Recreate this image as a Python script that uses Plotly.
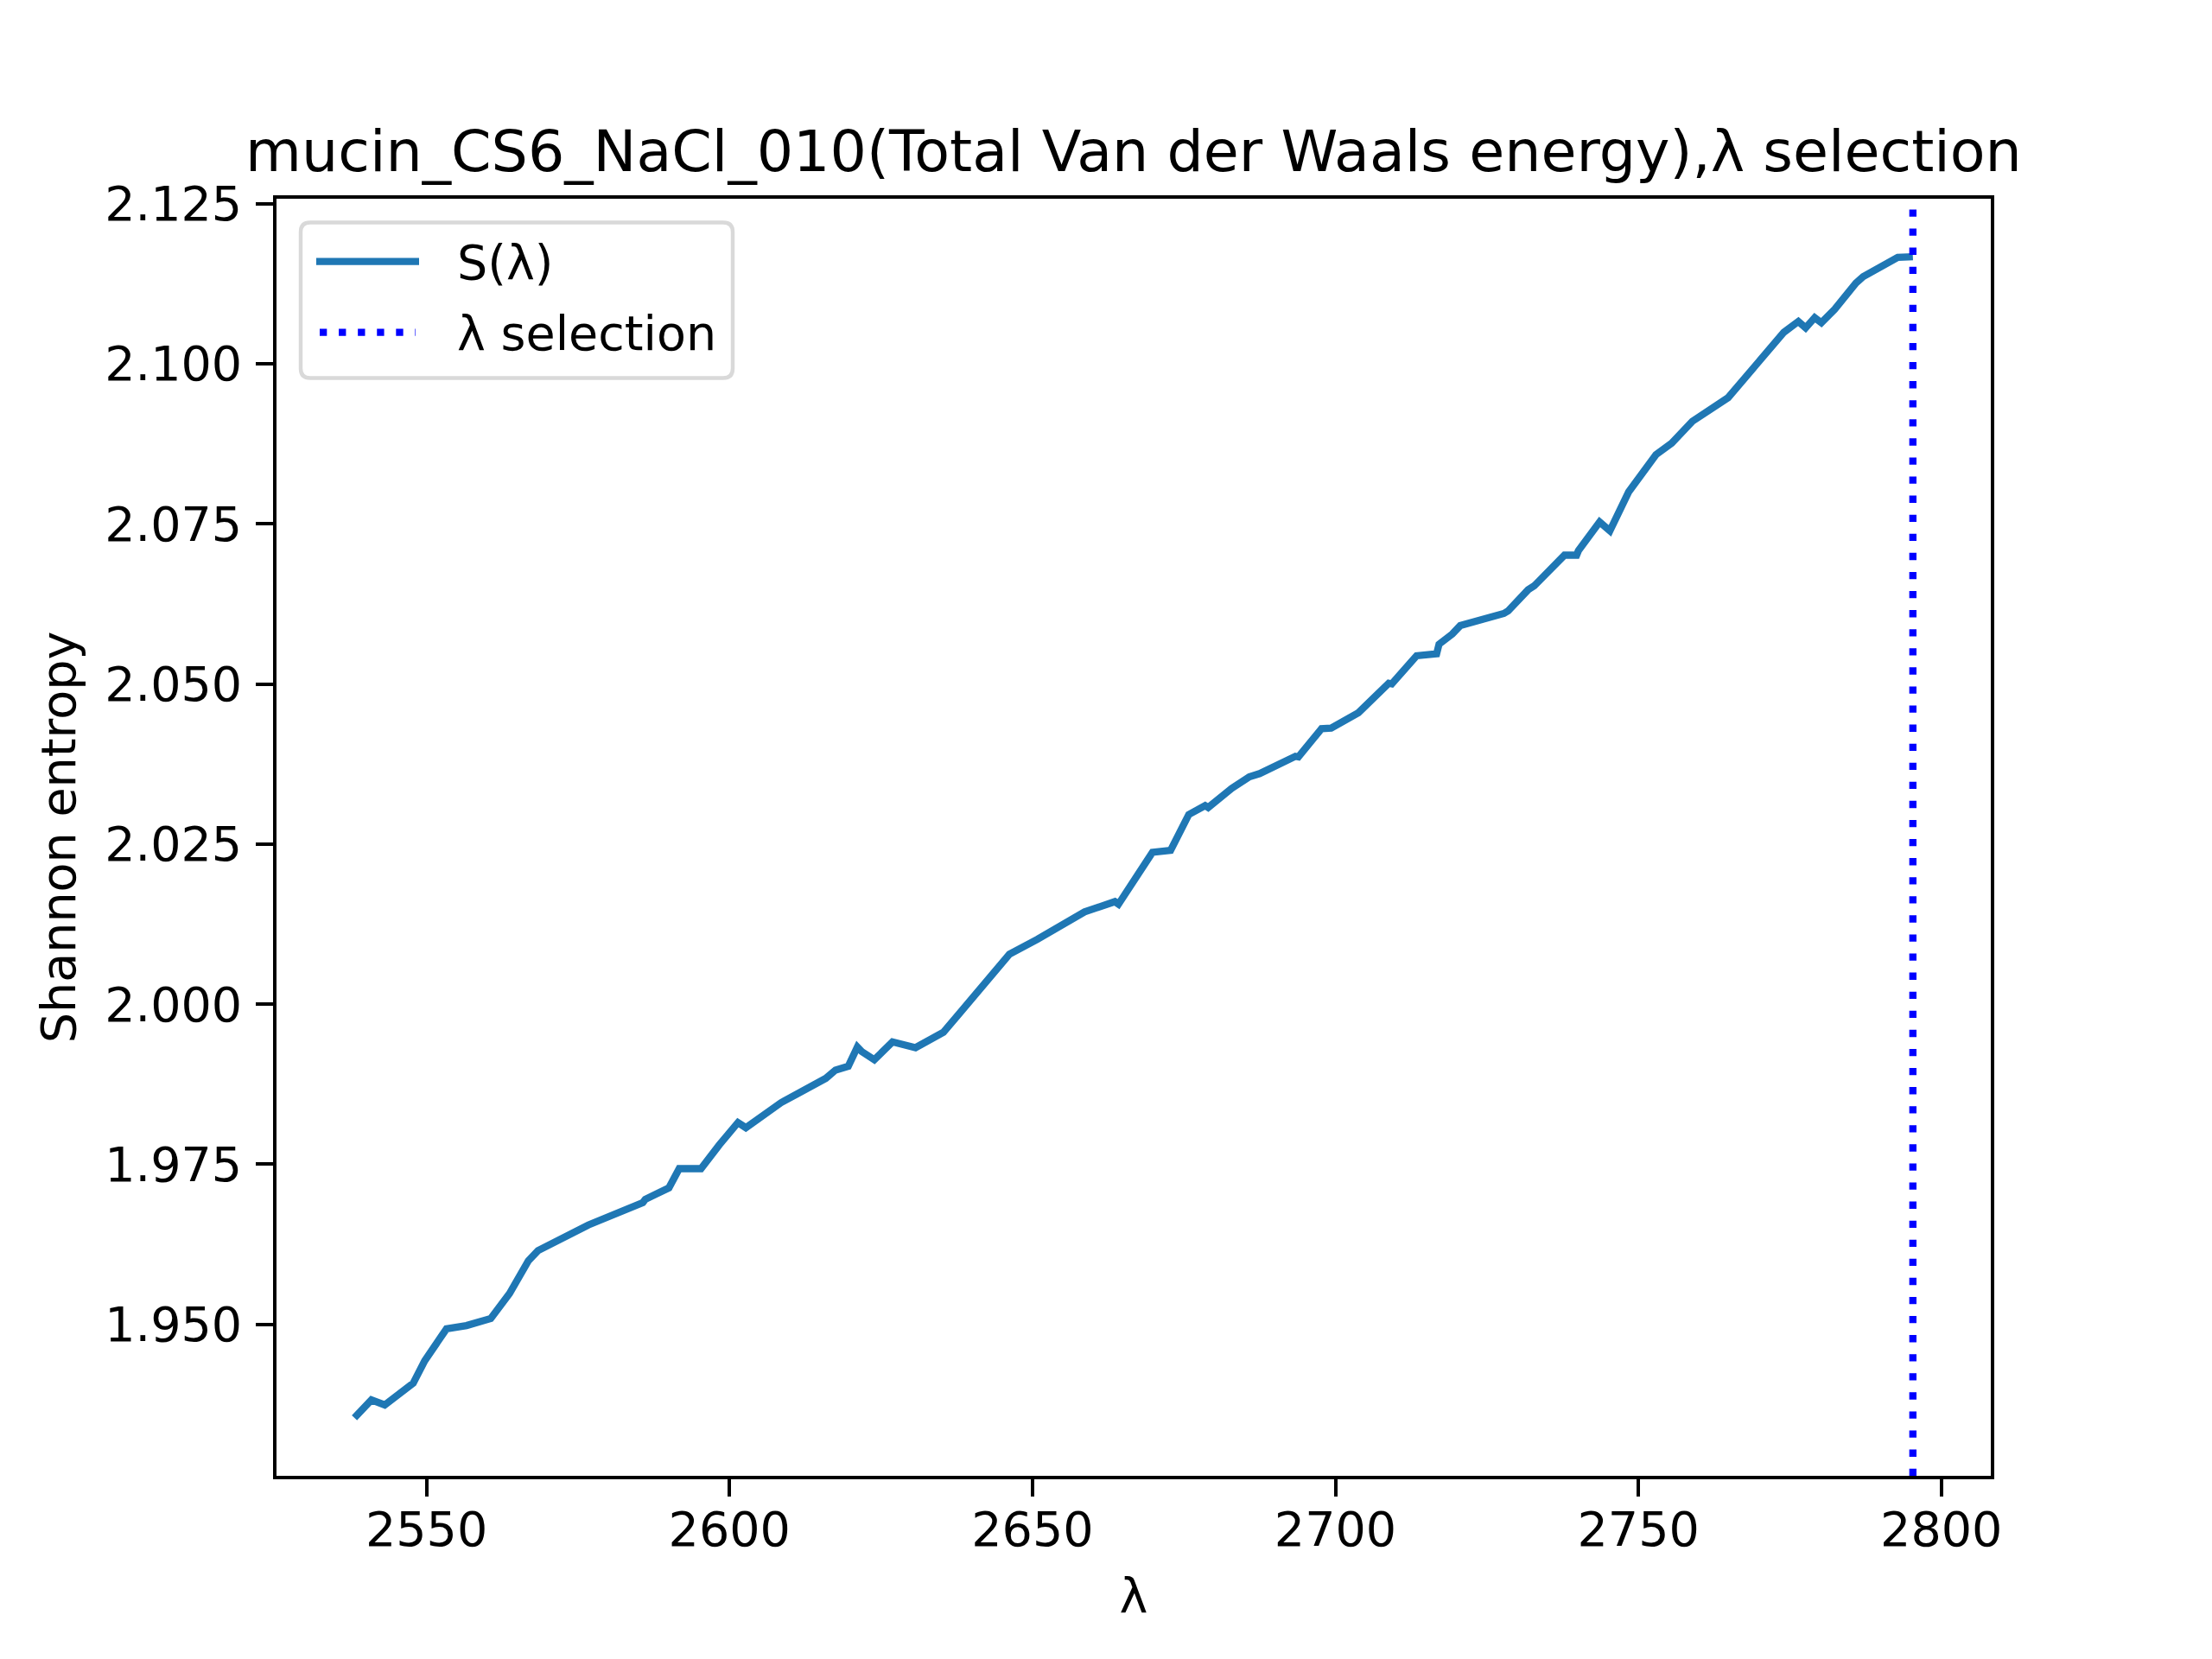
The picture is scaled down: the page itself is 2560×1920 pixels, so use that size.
import plotly.graph_objects as go

# ---- data ----
lam = [2538.1, 2540.9, 2543.1, 2547.8, 2549.7, 2553.3, 2556.6, 2560.6, 2563.7, 2566.8,
       2568.4, 2576.7, 2585.7, 2586.1, 2590.0, 2591.7, 2595.3, 2596.7, 2598.3, 2601.4,
       2602.7, 2608.5, 2615.9, 2617.5, 2619.6, 2621.1, 2621.8, 2623.9, 2626.9, 2630.7,
       2635.3, 2637.9, 2646.2, 2650.8, 2658.6, 2663.6, 2664.2, 2669.8, 2672.8, 2675.8,
       2678.5, 2679.0, 2682.9, 2685.8, 2687.5, 2693.4, 2693.9, 2697.7, 2699.3, 2703.8,
       2708.8, 2709.3, 2713.4, 2716.7, 2717.1, 2719.3, 2720.6, 2727.8, 2728.5, 2731.8,
       2732.8, 2737.8, 2739.8, 2740.1, 2743.6, 2745.3, 2748.4, 2752.9, 2755.5, 2758.9,
       2764.8, 2774.0, 2776.4, 2777.6, 2779.1, 2780.2, 2782.4, 2785.9, 2787.1, 2792.8,
       2795.3]
entropy = [1.9354, 1.9382, 1.9374, 1.9408, 1.9443, 1.9493, 1.9498, 1.9509, 1.9548, 1.9599,
           1.9615, 1.9655, 1.9690, 1.9695, 1.9713, 1.9743, 1.9743, 1.9762, 1.9780, 1.9815,
           1.9807, 1.9846, 1.9884, 1.9897, 1.9903, 1.9933, 1.9926, 1.9913, 1.9941, 1.9932,
           1.9956, 1.9985, 2.0078, 2.0101, 2.0144, 2.0160, 2.0156, 2.0237, 2.0240, 2.0296,
           2.0310, 2.0307, 2.0337, 2.0355, 2.0360, 2.0387, 2.0386, 2.0430, 2.0431, 2.0455,
           2.0501, 2.0500, 2.0544, 2.0547, 2.0562, 2.0578, 2.0591, 2.0610, 2.0614, 2.0647,
           2.0653, 2.0701, 2.0701, 2.0708, 2.0753, 2.0739, 2.0800, 2.0858, 2.0876, 2.0910,
           2.0947, 2.1049, 2.1066, 2.1056, 2.1072, 2.1064, 2.1085, 2.1126, 2.1136, 2.1166,
           2.1167]
lam_selection = 2795.3

title_text = "mucin_CS6_NaCl_010(Total Van der Waals energy),λ selection"
x_label = "λ"
y_label = "Shannon entropy"
legend_names = ["S(λ)", "λ selection"]
x_ticks = [2550, 2600, 2650, 2700, 2750, 2800]
y_ticks = [1.950, 1.975, 2.000, 2.025, 2.050, 2.075, 2.100, 2.125]

# ---- ranges with 5% padding (matplotlib-like) ----
xmin, xmax = min(lam), max(lam)
ymin, ymax = min(entropy), max(entropy)
xpad = (xmax - xmin) * 0.05
ypad = (ymax - ymin) * 0.05
xr = [xmin - xpad, xmax + xpad]
yr = [ymin - ypad, ymax + ypad]

PT = 400 / 72.0  # px per point at 400 dpi
FONT = "DejaVu Sans"
C_LINE = "#1f77b4"
C_SEL = "#0000ff"
DOT = f"{1.5*PT:.2f}px,{1.5*1.65*PT:.2f}px"

# figure geometry (page has an 8px body margin)
W, H = 2552, 1912
ML, MT = 312, 222
PW, PH = 1984, 1478.4
MR = W - ML - PW
MB = H - MT - PH

fig = go.Figure()
fig.add_trace(go.Scatter(
    x=lam, y=entropy, mode="lines", name=legend_names[0], showlegend=False,
    line=dict(color=C_LINE, width=1.5 * PT),
))
fig.add_trace(go.Scatter(
    x=[lam_selection, lam_selection], y=yr, mode="lines", name=legend_names[1],
    showlegend=False,
    line=dict(color=C_SEL, width=1.5 * PT, dash=DOT),
))

# ---- legend drawn in paper coordinates (page px -> paper) ----
def px(X):
    return (X - 320) / PW

def py(Y):
    return 1 - (Y - 230.4) / PH

bx0, by0, bx1, by1 = 348, 258, 848, 438
r = 11
rx, ry = r / PW, r / PH
x0, x1, y0, y1 = px(bx0), px(bx1), py(by0), py(by1)
path = (f"M{x0+rx},{y0} L{x1-rx},{y0} Q{x1},{y0} {x1},{y0-ry} "
        f"L{x1},{y1+ry} Q{x1},{y1} {x1-rx},{y1} L{x0+rx},{y1} "
        f"Q{x0},{y1} {x0},{y1+ry} L{x0},{y0-ry} Q{x0},{y0} {x0+rx},{y0} Z")
shapes = [
    dict(type="path", path=path, xref="paper", yref="paper", layer="above",
         fillcolor="rgba(255,255,255,0.8)",
         line=dict(color="#d9d9d9", width=0.8 * PT)),
    dict(type="line", xref="paper", yref="paper", layer="above",
         x0=px(366), x1=px(485), y0=py(303), y1=py(303),
         line=dict(color=C_LINE, width=1.5 * PT)),
    dict(type="line", xref="paper", yref="paper", layer="above",
         x0=px(370), x1=px(481), y0=py(385), y1=py(385),
         line=dict(color=C_SEL, width=1.5 * PT, dash=DOT)),
]
annotations = [
    dict(text=legend_names[0], xref="paper", yref="paper", x=px(527), y=py(304),
         xanchor="left", yanchor="middle", showarrow=False,
         font=dict(family=FONT, size=10 * PT, color="black")),
    dict(text=legend_names[1], xref="paper", yref="paper", x=px(527), y=py(386),
         xanchor="left", yanchor="middle", showarrow=False,
         font=dict(family=FONT, size=10 * PT, color="black")),
]

axis_common = dict(
    showgrid=False, zeroline=False, showline=True, linecolor="black",
    linewidth=0.8 * PT, mirror=True, ticks="outside", ticklen=3.5 * PT,
    tickwidth=0.8 * PT, tickcolor="black",
    tickfont=dict(family=FONT, size=10 * PT, color="black"),
)

fig.update_layout(
    width=W, height=H,
    margin=dict(l=ML, r=MR, t=MT, b=MB, autoexpand=False),
    paper_bgcolor="white", plot_bgcolor="white",
    font=dict(family=FONT, color="black"),
    title=dict(text=title_text, x=0.5, xref="paper", xanchor="center",
               y=1 - 190 / H, yref="container", yanchor="bottom",
               font=dict(family=FONT, size=12 * PT, color="black")),
    xaxis=dict(range=xr, tickvals=x_ticks, ticklabelstandoff=-9,
               title=dict(text=x_label, standoff=27,
                          font=dict(family=FONT, size=10 * PT, color="black")),
               **axis_common),
    yaxis=dict(range=yr, tickvals=y_ticks, tickformat=".3f", ticklabelstandoff=5,
               title=dict(text=y_label, standoff=17,
                          font=dict(family=FONT, size=10 * PT, color="black")),
               **axis_common),
    shapes=shapes,
    annotations=annotations,
    showlegend=False,
)

fig.write_html("out.html")
